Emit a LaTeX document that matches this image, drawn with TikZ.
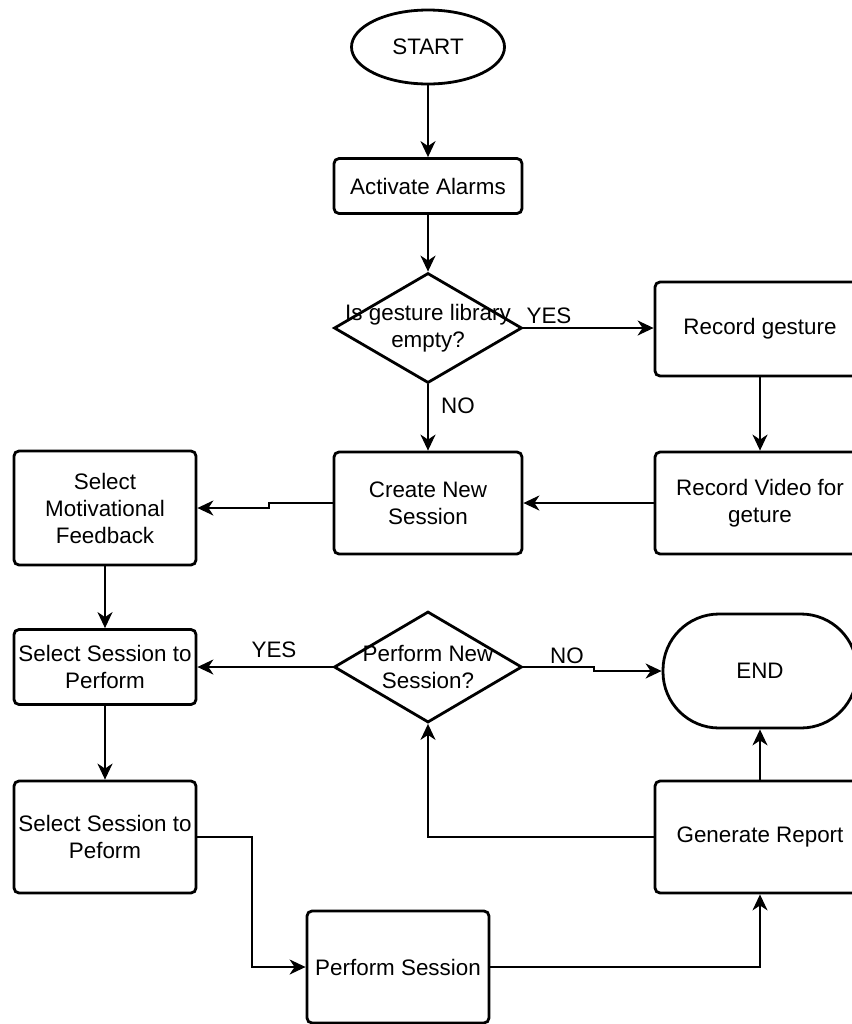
\documentclass[tikz,border=0pt]{standalone}
\usepackage{fontspec}
\setmainfont{Liberation Sans}
\usepackage{tikz}
\usetikzlibrary{arrows.meta,positioning,shapes.geometric}
\tikzset{
  terminal/.style = {ellipse, draw, line width=1.4pt, inner sep=0pt},
  stopbox/.style  = {rectangle, rounded corners=28pt, draw, line width=1.4pt, inner sep=0pt},
  process/.style  = {rectangle, rounded corners=2.5pt, draw, line width=1.4pt, align=center, inner sep=1pt},
  decision/.style = {diamond, draw, line width=1.4pt, inner sep=0pt},
  wire/.style     = {-{Stealth[length=8pt,width=7.5pt,inset=2.5pt]}, line width=1pt},
  labelstyle/.style = {font=\fontsize{11.2}{13.5}\selectfont, inner sep=0pt}
}

\begin{document}
\begin{tikzpicture}[x=0.5pt, y=-0.5pt, font=\fontsize{11.2}{13.5}\selectfont]
    \useasboundingbox (0,0) rectangle (852,1024);
    % Top column
    \node[terminal,minimum width=76.5pt,minimum height=37pt] (start) at (428,47) {START};
    \node[process,minimum width=94pt,minimum height=27.5pt] (act) at (428,186) {Activate Alarms};
    \node[decision,minimum width=94pt,minimum height=55pt,
          label={[labelstyle,align=center]center:Is gesture library\\empty?}] (libq) at (428,328) {};
    % Recording branch
    \node[process,minimum width=105pt,minimum height=47pt] (recg) at (760,329) {Record gesture};
    \node[process,minimum width=105pt,minimum height=51pt] (recv) at (760,503) {Record Video for\\geture};
    \node[process,minimum width=94pt,minimum height=51pt] (create) at (428,503) {Create New\\Session};
    \node[process,minimum width=91pt,minimum height=57pt] (motiv) at (105,508) {Select\\Motivational\\Feedback};
    % Session loop
    \node[process,minimum width=91pt,minimum height=37.5pt] (sel1) at (105,667) {Select Session to\\Perform};
    \node[decision,minimum width=94pt,minimum height=55.5pt,
          label={[labelstyle,align=center]center:Perform New\\Session?}] (newq) at (428,667) {};
    \node[stopbox,minimum width=97pt,minimum height=57pt] (stop) at (760,671) {END};
    \node[process,minimum width=105pt,minimum height=56pt] (report) at (760,837) {Generate Report};
    \node[process,minimum width=91pt,minimum height=56pt] (sel2) at (105,837) {Select Session to\\Peform};
    \node[process,minimum width=91pt,minimum height=56pt] (perf) at (398,967) {Perform Session};
    % Branch labels
    \node[labelstyle] (yes1) at (549,316) {YES};
    \node[labelstyle] (no1) at (458,406) {NO};
    \node[labelstyle] (yes2) at (274,650) {YES};
    \node[labelstyle] (no2) at (567,656) {NO};
    % Wires
    \draw[wire] (start) -- (act);
    \draw[wire] (act) -- (libq);
    \draw[wire] (libq.east) -- (libq.east -| recg.west);
    \draw[wire] (libq) -- (create);
    \draw[wire] (recg) -- (recv);
    \draw[wire] (recv) -- (create);
    \draw[wire] (create.west) -- ++(-64,0) |- (motiv.east);
    \draw[wire] (motiv) -- (sel1);
    \draw[wire] (newq.west) -- (newq.west -| sel1.east);
    \draw[wire] (newq.east) -- ++(71,0) |- (stop.west);
    \draw[wire] (report) -- (stop);
    \draw[wire] (report.west) -| (newq.south);
    \draw[wire] (sel1) -- (sel2);
    \draw[wire] (sel2.east) -- ++(55,0) |- (perf.west);
    \draw[wire] (perf.east) -| (report.south);
  \end{tikzpicture}
\end{document}
